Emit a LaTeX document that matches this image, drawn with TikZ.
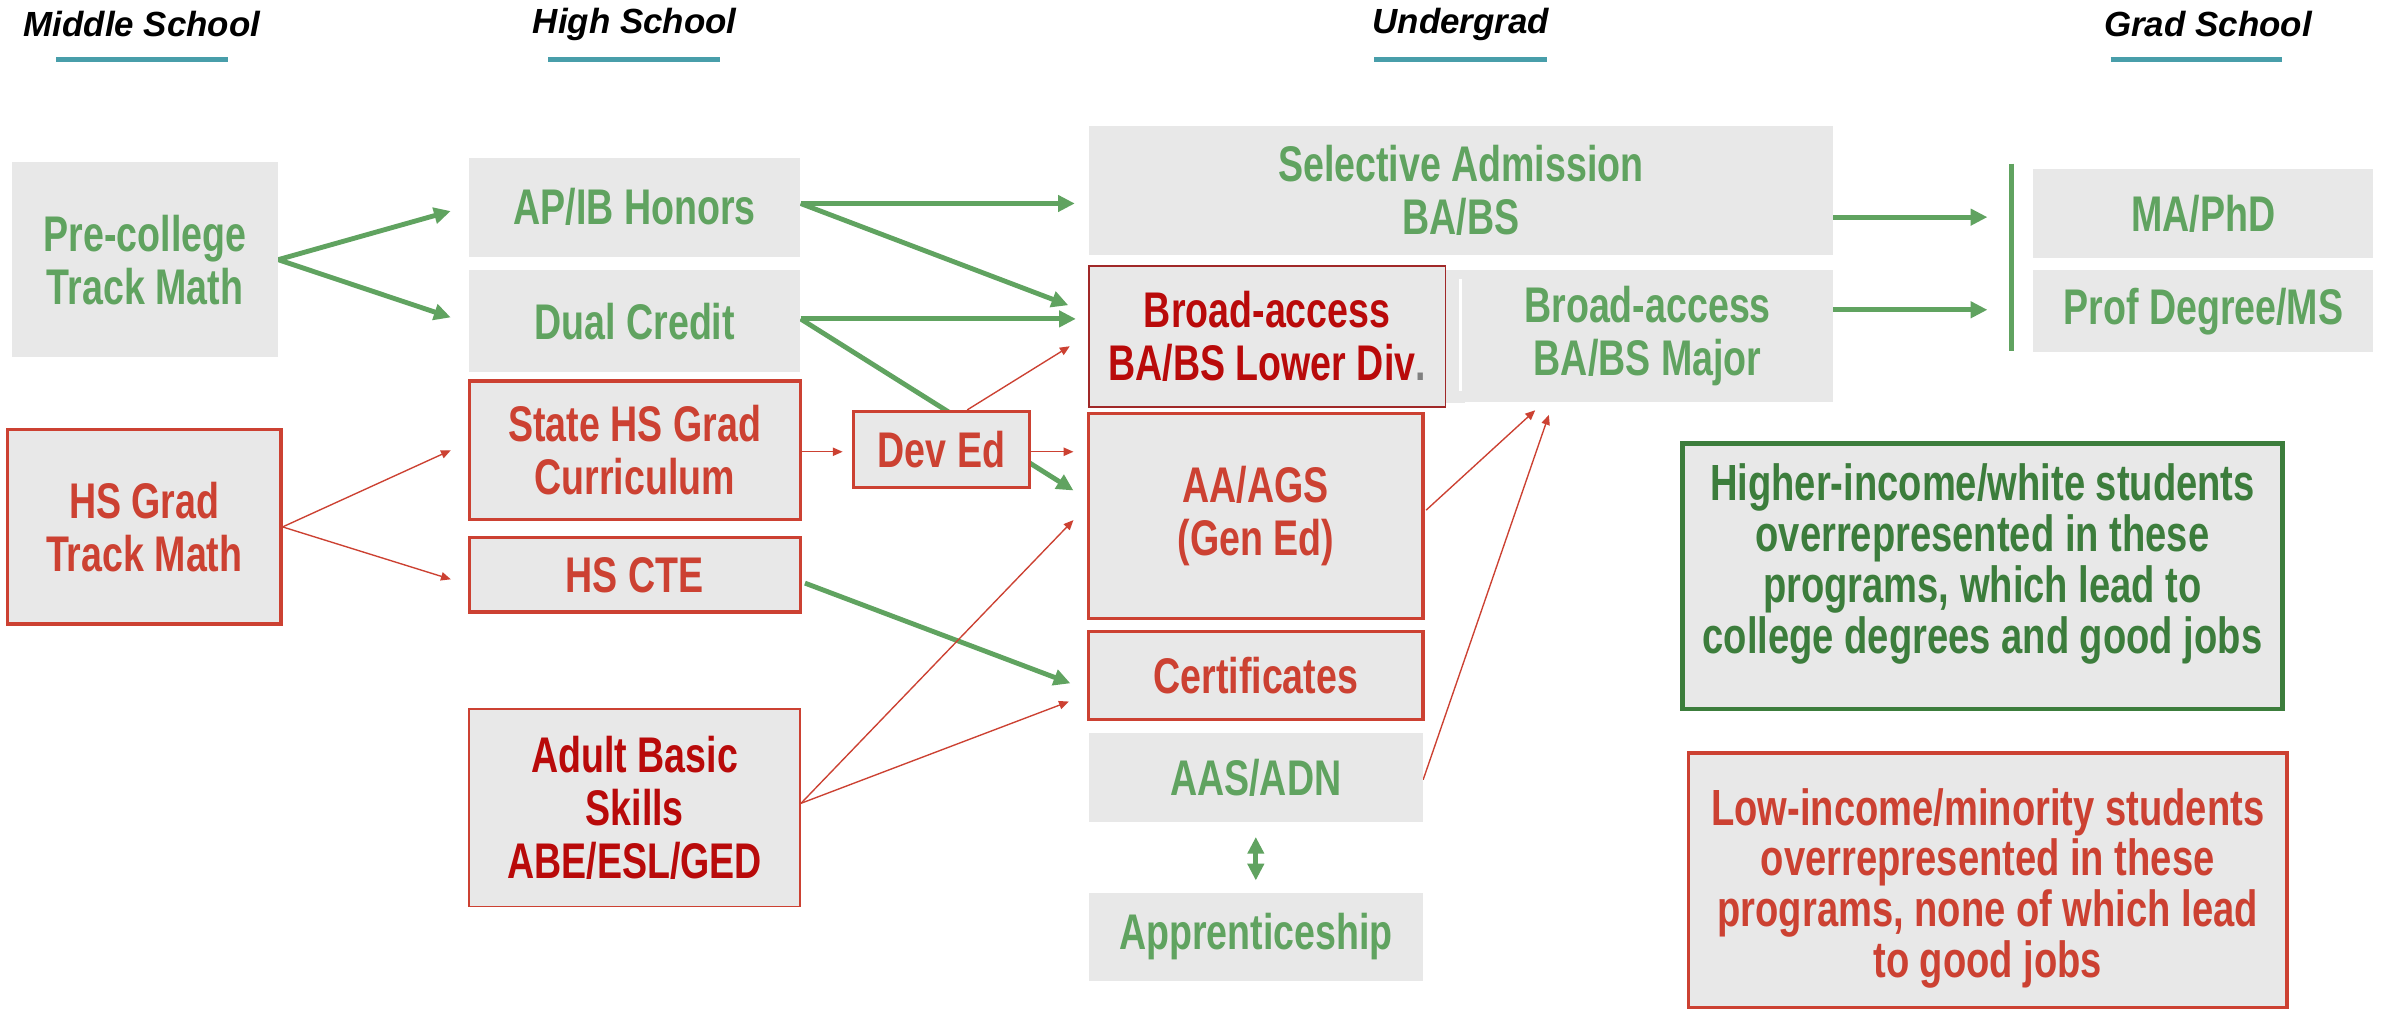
\documentclass[tikz,border=0pt]{standalone}
\usepackage{fontspec}
\setmainfont{Liberation Sans}[FakeStretch=0.75]
\newfontfamily\hdrfont{Liberation Sans}
\usetikzlibrary{arrows.meta,calc,backgrounds}
\definecolor{boxgray}{RGB}{232,232,232}
\definecolor{tgreen}{RGB}{96,163,96}
\definecolor{dgreen}{RGB}{60,125,60}
\definecolor{tred}{RGB}{204,65,50}
\definecolor{dred}{RGB}{185,10,10}
\definecolor{lowbord}{RGB}{160,40,40}
\definecolor{tealc}{RGB}{72,158,170}
\pgfdeclarelayer{bg}
\pgfsetlayers{bg,background,main}
\tikzset{
  box/.style={fill=boxgray, inner sep=0pt, align=center, font=\bfseries\fontsize{33}{35}\selectfont},
  gbox/.style={box, text=tgreen},
  rbox/.style={box, draw=tred, line width=2.2pt, text=tred},
  sz/.style 2 args={minimum width=#1pt, minimum height=#2pt},
  garrow/.style={draw=tgreen, line width=3.2pt, -{Triangle[length=11pt,width=10.5pt]}},
  rarrow/.style={draw=tred, line width=0.9pt, -{Triangle[length=6.5pt,width=5.5pt]}},
  header/.style={font=\hdrfont\bfseries\itshape\fontsize{23}{27}\selectfont},
  uline/.style={draw=tealc, line width=3.5pt},
  legendtext/.style={inner sep=0pt, align=center, font=\bfseries\fontsize{33.5}{33.5}\selectfont}
}
\begin{document}
\begin{tikzpicture}[x=1pt,y=-1pt]
\begin{pgfonlayer}{bg}
\fill[white] (0,0) rectangle (1568,664);
\end{pgfonlayer}
\useasboundingbox (0,0) rectangle (1568,664);

% headers
\node[header] (h1) at (93.5,16) {Middle School};
\node[header] (h2) at (418,16) {High School};
\node[header] (h3) at (962,16) {Undergrad};
\node[header] (h4) at (1454,16) {Grad School};
\draw[uline] ($(h1)+(-56.5,23)$) -- ++(113,0);
\draw[uline] ($(h2)+(-57,23)$) -- ++(113,0);
\draw[uline] ($(h3)+(-57,23)$) -- ++(114,0);
\draw[uline] ($(h4)+(-64,23)$) -- ++(113,0);

% middle school
\node[gbox, sz={175}{128}] (pre) at (95.5,171) {Pre-college\\Track Math};
\node[rbox, sz={180}{128}] (hsg) at (95,347) {HS Grad\\Track Math};

% high school
\node[gbox, sz={218}{65}] (apib) at (418,136.5) {AP/IB Honors};
\node[gbox, sz={218}{67}] (dual) at (418,211.5) {Dual Credit};
\node[rbox, sz={218}{91}] (state) at (418,296.5) {State HS Grad\\Curriculum};
\node[rbox, sz={218}{49}] (cte) at (418,378.5) {HS CTE};
\node[box, draw=tred, line width=1pt, text=dred, sz={218}{130}] (adult) at (418,532) {Adult Basic\\Skills\\ABE/ESL/GED};
\node[rbox, sz={116}{50}] (dev) at (620,296) {Dev Ed};

% undergrad
\node[gbox, sz={490}{85}] (sel) at (962,125.5) {Selective Admission\\BA/BS};
\node[gbox, sz={244}{87}] (major) at (1085,221.5) {Broad-access\\BA/BS Major};
\fill[boxgray] ($(major.north west)+(-12,0)$) rectangle ($(major.south west)+(2,0)$);
\draw[white, line width=2.5pt] ($(major.north west)+(-1,6)$) -- ($(major.south west)+(-1,-8)$);
\node[box, draw=lowbord, line width=1pt, text=dred, sz={235}{93}] (lower) at (834.5,221.5) {Broad-access\\BA/BS Lower Div\textcolor{gray}{.}};
\node[rbox, sz={220}{135}] (aa) at (827,340) {AA/AGS\\(Gen Ed)};
\node[rbox, sz={220}{58}] (cert) at (827,445) {Certificates};
\node[gbox, sz={220}{58}] (aas) at (827,512) {AAS/ADN};
\node[gbox, sz={220}{58}] (appr) at (827,617) {Apprenticeship};

% grad school
\node[gbox, sz={224}{59}] (ma) at (1451,140.5) {MA/PhD};
\node[gbox, sz={224}{54}] (prof) at (1451,205) {Prof Degree/MS};

% legends
\node[box, draw=dgreen, line width=3pt, sz={395}{175}] (lg) at (1305.5,379.5) {};
\node[legendtext, text=dgreen] (lgt) at ($(lg.center)+(0,-8)$)
  {Higher-income/white students\\overrepresented in these\\programs, which lead to\\college degrees and good jobs};
\node[box, draw=tred, line width=2.5pt, sz={394}{168}] (lr) at (1309,580) {};
\node[legendtext, text=tred] (lrt) at ($(lr.center)+(0,5)$)
  {Low-income/minority students\\overrepresented in these\\programs, none of which lead\\to good jobs};

\begin{pgfonlayer}{background}
% green connectors
\draw[garrow] (pre.east) -- ($(apib.west)+(-12,2.5)$);
\draw[garrow] (pre.east) -- ($(dual.west)+(-12,-2.5)$);
\draw[garrow] ($(apib.east)+(0,-2.5)$) -- ($(sel.west)+(-9,8.5)$);
\draw[garrow] ($(apib.east)+(0,-2.5)$) -- ($(lower.west)+(-13,-20.5)$);
\draw[garrow] ($(dual.east)+(0,-1.5)$) -- ($(lower.west)+(-8,-11.5)$);
\draw[garrow] ($(dual.east)+(0,-1.5)$) -- ($(aa.west)+(-9,-17)$);
\draw[garrow] ($(cte.east)+(2,5.5)$) -- ($(cert.west)+(-11,5)$);
\draw[garrow] ($(sel.east)+(0,17.5)$) -- ($(ma.west)+(-30,2.5)$);
\draw[garrow] ($(major.east)+(0,-17.5)$) -- ($(prof.west)+(-30,-1)$);
\draw[garrow, {Triangle[length=11pt,width=10.5pt]}-{Triangle[length=11pt,width=10.5pt]}] ($(aas.south)+(0,10)$) -- ($(appr.north)+(0,-8)$);
\draw[draw=tgreen, line width=3pt] ($(ma.north west)+(-14,-3)$) -- ($(prof.south west)+(-14,-1)$);
% red connectors
\draw[rarrow] (hsg.east) -- ($(state.west)+(-11,0)$);
\draw[rarrow] (hsg.east) -- ($(cte.west)+(-11,3)$);
\draw[rarrow] ($(state.east)+(0,1)$) -- ($(dev.west)+(-6,1.5)$);
\draw[rarrow] ($(dev.east)+(0,1.5)$) -- ($(aa.west)+(-9,-42.5)$);
\draw[rarrow] ($(dev.north)+(17,0)$) -- ($(lower.west)+(-12,6.5)$);
\draw[rarrow] ($(adult.east)+(0,-3)$) -- ($(aa.west)+(-9,2.5)$);
\draw[rarrow] ($(adult.east)+(0,-3)$) -- ($(cert.west)+(-12,17)$);
\draw[rarrow] ($(aa.east)+(1,-4)$) -- ($(major.south)+(-74,5)$);
\draw[rarrow] ($(aas.east)+(0,1.5)$) -- ($(major.south)+(-65,8)$);
\end{pgfonlayer}
\end{tikzpicture}
\end{document}
